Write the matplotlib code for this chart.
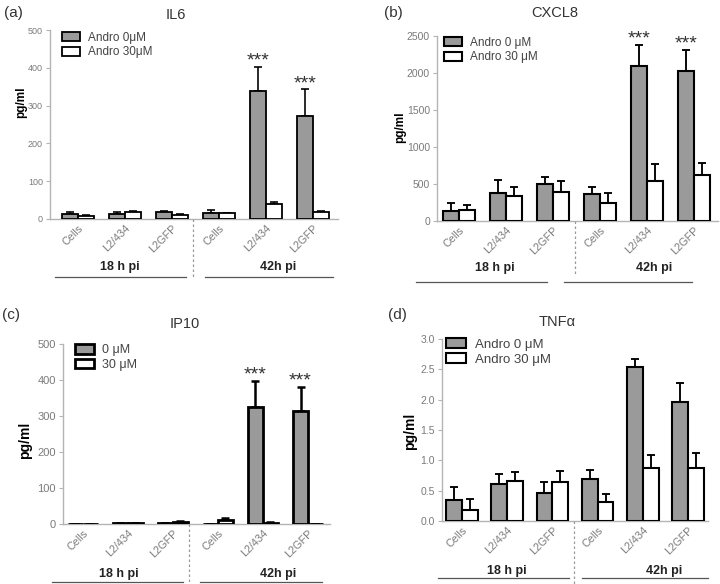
import matplotlib
matplotlib.use("Agg")
import matplotlib.pyplot as plt
import numpy as np
from matplotlib.patches import Patch
from matplotlib.lines import Line2D

plt.rcParams['font.family'] = ['Liberation Sans', 'DejaVu Sans']

# ---------------- data ----------------
categories = ["Cells", "L2/434", "L2GFP", "Cells", "L2/434", "L2GFP"]
time_groups = ["18 h pi", "42h pi"]

il6_0 = [14, 14, 19, 15, 339, 273]
il6_0_err = [4.5, 3.6, 3, 10, 64, 70]
il6_30 = [9, 19, 11, 15, 40, 18]
il6_30_err = [2, 2, 2.5, 2, 6, 4]

cxcl8_0 = [141, 373, 500, 364, 2093, 2022]
cxcl8_0_err = [100, 177, 95, 95, 285, 295]
cxcl8_30 = [145, 336, 386, 250, 541, 618]
cxcl8_30_err = [73, 119, 159, 123, 232, 168]

ip10_0 = [0, 2, 3, 1, 324, 314]
ip10_0_err = [0, 0, 0, 0, 74, 67]
ip10_30 = [0, 2, 5, 10, 4, 1]
ip10_30_err = [0, 0, 2, 8, 1, 0]

tnf_0 = [0.35, 0.61, 0.46, 0.69, 2.54, 1.96]
tnf_0_err = [0.21, 0.16, 0.19, 0.15, 0.13, 0.31]
tnf_30 = [0.18, 0.66, 0.65, 0.31, 0.87, 0.87]
tnf_30_err = [0.18, 0.15, 0.17, 0.13, 0.21, 0.25]

sig_index = [4, 5]  # groups marked ***

W, H = 720, 584
fig = plt.figure(figsize=(W / 100, H / 100), dpi=100)

def fx(x):
    return x / W

def fy(y):
    return 1 - y / H

GRAY = "#9a9a9a"
AXC = "#b4b4b4"
TXC = "#7a7a7a"

panels = [
    dict(box=(50, 30, 338, 219), xlim=(-0.6, 5.53), ymax=500, step=100, fmt="{:.0f}",
         s0=il6_0, e0=il6_0_err, s1=il6_30, e1=il6_30_err,
         labels=["Andro 0\u03bcM", "Andro 30\u03bcM"], leg=(62, 32), legfs=8.5,
         title="IL6", tpos=(176, 15), plabel="(a)", ppos=(13, 13),
         ylab=(21, 102), ylfs=8.5, tickfs=6.5, stars=True, lw=1.3, bw=0.34,
         gl_y=277, gl=[(55, 186), (205, 333)], gt_y=267, gt_x=[120, 278],
         dash=(193, 219, 277)),
    dict(box=(437, 36, 718, 221), xlim=(-0.47, 5.51), ymax=2500, step=500, fmt="{:.0f}",
         s0=cxcl8_0, e0=cxcl8_0_err, s1=cxcl8_30, e1=cxcl8_30_err,
         labels=["Andro 0 \u03bcM", "Andro 30 \u03bcM"], leg=(444, 37), legfs=8.5,
         title="CXCL8", tpos=(555, 13), plabel="(b)", ppos=(393, 13),
         ylab=(400, 127), ylfs=8.5, tickfs=7.5, stars=True, lw=1.5, bw=0.34,
         gl_y=282, gl=[(416, 547), (564, 692)], gt_y=268, gt_x=[495, 654],
         dash=(575, 221, 275)),
    dict(box=(63, 344, 330, 524), xlim=(-0.44, 5.49), ymax=500, step=100, fmt="{:.0f}",
         s0=ip10_0, e0=ip10_0_err, s1=ip10_30, e1=ip10_30_err,
         labels=["0 \u03bcM", "30 \u03bcM"], leg=(75, 344), legfs=9,
         title="IP10", tpos=(185, 324), plabel="(c)", ppos=(11, 315),
         ylab=(25, 440), ylfs=10, tickfs=8, stars=True, lw=2.0, bw=0.33,
         gl_y=582, gl=[(52, 183), (200, 322)], gt_y=574, gt_x=[119, 278],
         dash=(189, 524, 584)),
    dict(box=(442, 339, 708, 521), xlim=(-0.44, 5.44), ymax=3.0, step=0.5, fmt="{:.1f}",
         s0=tnf_0, e0=tnf_0_err, s1=tnf_30, e1=tnf_30_err,
         labels=["Andro 0 \u03bcM", "Andro 30 \u03bcM"], leg=(446, 338), legfs=9.5,
         title="TNF\u03b1", tpos=(557, 322), plabel="(d)", ppos=(397, 315),
         ylab=(410, 431), ylfs=10, tickfs=7.5, stars=False, lw=1.5, bw=0.35,
         gl_y=578, gl=[(438, 569), (582, 708)], gt_y=571, gt_x=[507, 664],
         dash=(574, 521, 584)),
]

for p in panels:
    l, t, r, b = p["box"]
    ax = fig.add_axes([fx(l), fy(b), (r - l) / W, (b - t) / H])
    x = np.arange(len(categories))
    bw = p["bw"]
    lw = p["lw"]
    s0, e0, s1, e1 = map(np.asarray, (p["s0"], p["e0"], p["s1"], p["e1"]))
    ax.bar(x - bw / 2, s0, bw, color=GRAY, edgecolor="black", linewidth=lw, zorder=3)
    ax.bar(x + bw / 2, s1, bw, color="white", edgecolor="black", linewidth=lw, zorder=3)
    ax.errorbar(x - bw / 2, s0, yerr=[np.zeros_like(e0), e0], fmt="none",
                ecolor="black", elinewidth=lw * 0.9, capsize=2.6, capthick=lw * 0.9, zorder=2)
    ax.errorbar(x + bw / 2, s1, yerr=[np.zeros_like(e1), e1], fmt="none",
                ecolor="black", elinewidth=lw * 0.9, capsize=2.6, capthick=lw * 0.9, zorder=2)
    if p["stars"]:
        for i in sig_index:
            ax.annotate("***", (x[i] - bw / 2, s0[i] + e0[i]), xytext=(0, -2),
                        textcoords="offset points", ha="center", va="bottom",
                        fontsize=14, color="#333333", annotation_clip=False)
    ax.set_xlim(*p["xlim"])
    ax.set_ylim(0, p["ymax"])
    yt = np.arange(0, p["ymax"] + p["step"] / 2, p["step"])
    ax.set_yticks(yt)
    ax.set_yticklabels([p["fmt"].format(v) for v in yt])
    ax.set_xticks(x)
    ax.set_xticklabels(categories, rotation=45, ha="right", va="top",
                       rotation_mode="anchor")
    ax.tick_params(axis="x", length=0, pad=3, labelsize=7.8, labelcolor=TXC)
    ax.tick_params(axis="y", length=3, width=0.8, color=AXC, pad=2,
                   labelsize=p["tickfs"], labelcolor=TXC)
    for s in ("top", "right"):
        ax.spines[s].set_visible(False)
    for s in ("left", "bottom"):
        ax.spines[s].set_color(AXC)
        ax.spines[s].set_linewidth(1.0)
    ax.set_facecolor("none")

    handles = [Patch(facecolor=GRAY, edgecolor="black", linewidth=lw),
               Patch(facecolor="white", edgecolor="black", linewidth=lw)]
    fig.legend(handles, p["labels"], loc="upper left",
               bbox_to_anchor=(fx(p["leg"][0]), fy(p["leg"][1])),
               bbox_transform=fig.transFigure, frameon=False,
               fontsize=p["legfs"], handlelength=1.5, handleheight=0.8,
               handletextpad=0.7, labelspacing=0.2, borderpad=0, borderaxespad=0,
               labelcolor="#444444")

    fig.text(fx(p["tpos"][0]), fy(p["tpos"][1]), p["title"], ha="center", va="center",
             fontsize=10.5, color="#333333")
    fig.text(fx(p["ppos"][0]), fy(p["ppos"][1]), p["plabel"], ha="center", va="center",
             fontsize=11, color="#333333")
    fig.text(fx(p["ylab"][0]), fy(p["ylab"][1]), "pg/ml", ha="center", va="center",
             rotation=90, fontsize=p["ylfs"], fontweight="bold")

    for (x0, x1), lbl, tx in zip(p["gl"], time_groups, p["gt_x"]):
        fig.add_artist(Line2D([fx(x0), fx(x1)], [fy(p["gl_y"])] * 2,
                              color="#555555", linewidth=0.9))
        fig.text(fx(tx), fy(p["gt_y"]), lbl, ha="center", va="center",
                 fontsize=9, fontweight="bold", color="#222222")
    dx, dy0, dy1 = p["dash"]
    fig.add_artist(Line2D([fx(dx), fx(dx)], [fy(dy0), fy(dy1)], color="#999999",
                          linewidth=0.9, linestyle=(0, (2, 2))))

fig.savefig("out.png", dpi=100, facecolor="white")
